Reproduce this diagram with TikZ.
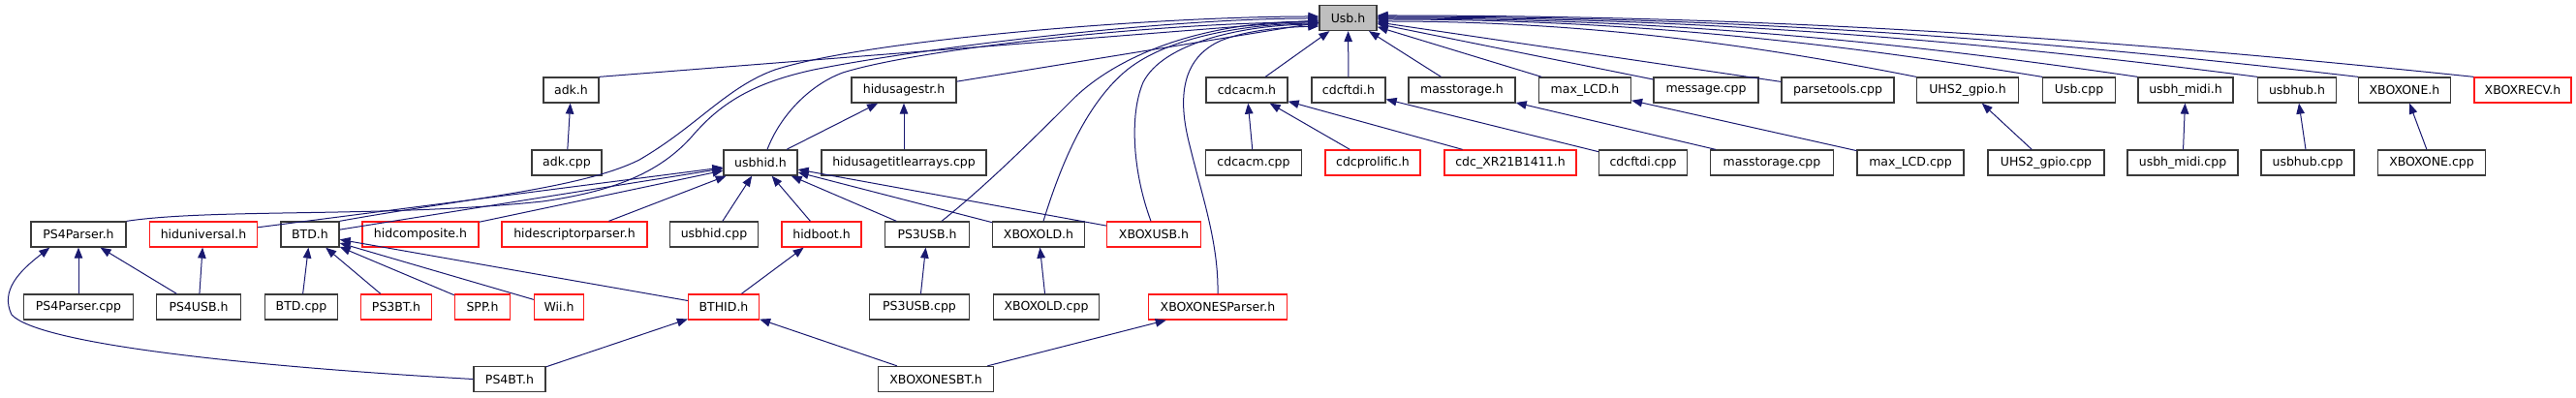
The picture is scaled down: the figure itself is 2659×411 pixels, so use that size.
\documentclass[tikz,border=0pt]{standalone}
\usepackage{fontspec}
\setmainfont{DejaVu Sans}
\usetikzlibrary{arrows.meta}
\definecolor{edgecol}{HTML}{191970}
\definecolor{boxred}{HTML}{FF1A1A}
\definecolor{boxblack}{HTML}{3A3A3A}
\definecolor{rootfill}{HTML}{BFBFBF}
\begin{document}
\begin{tikzpicture}[x=1pt,y=1pt,
  nb/.style={draw=boxblack, line width=1.3pt, minimum height=26pt, inner sep=0pt, fill=white,
             font=\fontsize{12.5pt}{14pt}\selectfont},
  nr/.style={nb, draw=boxred},
  nroot/.style={nb, fill=rootfill},
  edge/.style={draw=edgecol, line width=1.0pt, -{Triangle[length=11pt,width=8.5pt]}}]
\fill[white] (0,0) rectangle (2659,-411);
\useasboundingbox (0,0) rectangle (2659,-411);

% row 1
\node[nroot, minimum width=59pt] (usb) at (1391.5,-18.5) {Usb.h};
% row 2
\node[nb, minimum width=57pt]  (adkh) at (589.5,-93) {adk.h};
\node[nb, minimum width=108pt] (hidusagestr) at (933,-93) {hidusagestr.h};
\node[nb, minimum width=84pt]  (cdcacmh) at (1287,-93) {cdcacm.h};
\node[nb, minimum width=76pt]  (cdcftdih) at (1392,-93) {cdcftdi.h};
\node[nb, minimum width=110pt] (masstorageh) at (1509,-93) {masstorage.h};
\node[nb, minimum width=95pt]  (maxlcdh) at (1636,-93) {max\_LCD.h};
\node[nb, minimum width=108pt] (messagecpp) at (1761,-93) {message.cpp};
\node[nb, minimum width=116pt] (parsetoolscpp) at (1897,-93) {parsetools.cpp};
\node[nb, minimum width=105pt] (uhs2h) at (2031,-93) {UHS2\_gpio.h};
\node[nb, minimum width=75pt]  (usbcpp) at (2146,-93) {Usb.cpp};
\node[nb, minimum width=98pt]  (midih) at (2256,-93) {usbh\_midi.h};
\node[nb, minimum width=81pt]  (usbhubh) at (2371,-93) {usbhub.h};
\node[nb, minimum width=95pt]  (xboxoneh) at (2482,-93) {XBOXONE.h};
\node[nr, minimum width=100pt] (xboxrecvh) at (2604,-93) {XBOXRECV.h};
% row 3
\node[nb, minimum width=72pt]  (adkcpp) at (585,-168) {adk.cpp};
\node[nb, minimum width=76pt]  (usbhidh) at (785,-168) {usbhid.h};
\node[nb, minimum width=170pt] (titlecpp) at (933,-168) {hidusagetitlearrays.cpp};
\node[nb, minimum width=99pt]  (cdcacmcpp) at (1294,-168) {cdcacm.cpp};
\node[nr, minimum width=98pt]  (prolific) at (1417,-168) {cdcprolific.h};
\node[nr, minimum width=136pt] (xr21) at (1559,-168) {cdc\_XR21B1411.h};
\node[nb, minimum width=91pt]  (cdcftdicpp) at (1696,-168) {cdcftdi.cpp};
\node[nb, minimum width=127pt] (masstoragecpp) at (1829,-168) {masstorage.cpp};
\node[nb, minimum width=110pt] (maxlcdcpp) at (1972,-168) {max\_LCD.cpp};
\node[nb, minimum width=120pt] (uhs2cpp) at (2112,-168) {UHS2\_gpio.cpp};
\node[nb, minimum width=114pt] (midicpp) at (2253,-168) {usbh\_midi.cpp};
\node[nb, minimum width=96pt]  (usbhubcpp) at (2382,-168) {usbhub.cpp};
\node[nb, minimum width=111pt] (xboxonecpp) at (2510,-168) {XBOXONE.cpp};
% row 4
\node[nb, minimum width=98pt]  (ps4parserh) at (81,-242) {PS4Parser.h};
\node[nr, minimum width=111pt] (hiduniversal) at (210,-242) {hiduniversal.h};
\node[nb, minimum width=60pt]  (btdh) at (320,-242) {BTD.h};
\node[nr, minimum width=120pt] (hidcomposite) at (434,-242) {hidcomposite.h};
\node[nr, minimum width=150pt] (hidescriptor) at (593,-242) {hidescriptorparser.h};
\node[nb, minimum width=91pt]  (usbhidcpp) at (737,-242) {usbhid.cpp};
\node[nr, minimum width=82pt]  (hidboot) at (848,-242) {hidboot.h};
\node[nb, minimum width=87pt]  (ps3usbh) at (957,-242) {PS3USB.h};
\node[nb, minimum width=95pt]  (xboxoldh) at (1072,-242) {XBOXOLD.h};
\node[nr, minimum width=97pt]  (xboxusbh) at (1191,-242) {XBOXUSB.h};
% row 5
\node[nb, minimum width=113pt] (ps4parsercpp) at (81,-317) {PS4Parser.cpp};
\node[nb, minimum width=87pt]  (ps4usbh) at (205,-317) {PS4USB.h};
\node[nb, minimum width=75pt]  (btdcpp) at (311,-317) {BTD.cpp};
\node[nr, minimum width=73pt]  (ps3bth) at (409,-317) {PS3BT.h};
\node[nr, minimum width=57pt]  (spph) at (498,-317) {SPP.h};
\node[nr, minimum width=51pt]  (wiih) at (577,-317) {Wii.h};
\node[nr, minimum width=73pt]  (bthidh) at (747,-317) {BTHID.h};
\node[nb, minimum width=103pt] (ps3usbcpp) at (949,-317) {PS3USB.cpp};
\node[nb, minimum width=109pt] (xboxoldcpp) at (1080,-317) {XBOXOLD.cpp};
\node[nr, minimum width=143pt] (xboxonesparser) at (1257,-317) {XBOXONESParser.h};
% row 6
\node[nb, minimum width=74pt]  (ps4bth) at (526,-391.5) {PS4BT.h};
\node[nb, minimum width=119pt] (xboxonesbt) at (966,-391.5) {XBOXONESBT.h};

% straight edges
\draw[edge] (adkcpp) -- (adkh);
\draw[edge] (adkh.north east) -- (usb);
\draw[edge] (titlecpp) -- (hidusagestr);
\draw[edge] (usbhidh) -- (hidusagestr);
\draw[edge] (hidusagestr) -- (usb);
\draw[edge] (cdcacmh) -- (usb);
\draw[edge] (cdcftdih) -- (usb);
\draw[edge] (masstorageh) -- (usb);
\draw[edge] (maxlcdh) -- (usb);
\draw[edge] (messagecpp) -- (usb);
\draw[edge] (parsetoolscpp) -- (usb);
\draw[edge] (cdcacmcpp) -- (cdcacmh);
\draw[edge] (prolific) -- (cdcacmh);
\draw[edge] (xr21) -- (cdcacmh);
\draw[edge] (cdcftdicpp) -- (cdcftdih);
\draw[edge] (masstoragecpp) -- (masstorageh);
\draw[edge] (maxlcdcpp) -- (maxlcdh);
\draw[edge] (uhs2cpp) -- (uhs2h);
\draw[edge] (midicpp) -- (midih);
\draw[edge] (usbhubcpp) -- (usbhubh);
\draw[edge] (xboxonecpp) -- (xboxoneh);
\draw[edge] (hiduniversal) -- (usbhidh);
\draw[edge] (btdh) -- (usbhidh);
\draw[edge] (hidcomposite) -- (usbhidh);
\draw[edge] (hidescriptor) -- (usbhidh);
\draw[edge] (usbhidcpp) -- (usbhidh);
\draw[edge] (hidboot) -- (usbhidh);
\draw[edge] (ps3usbh) -- (usbhidh);
\draw[edge] (xboxoldh) -- (usbhidh);
\draw[edge] (xboxusbh) -- (usbhidh);
\draw[edge] (ps4parsercpp) -- (ps4parserh);
\draw[edge] (ps4usbh) -- (ps4parserh);
\draw[edge] (ps4usbh) -- (hiduniversal);
\draw[edge] (btdcpp) -- (btdh);
\draw[edge] (ps3bth) -- (btdh);
\draw[edge] (spph) -- (btdh);
\draw[edge] (wiih) -- (btdh);
\draw[edge] (bthidh) -- (btdh);
\draw[edge] (bthidh) -- (hidboot);
\draw[edge] (ps3usbcpp) -- (ps3usbh);
\draw[edge] (xboxoldcpp) -- (xboxoldh);
\draw[edge] (ps4bth) -- (bthidh);
\draw[edge] (xboxonesbt) -- (bthidh);
\draw[edge] (xboxonesbt) -- (xboxonesparser);

% curved edges
\draw[edge] (ps4bth.west) .. controls (250,-378) and (40,-355) .. (12,-325)
  .. controls (0,-300) and (20,-280) .. ([xshift=20pt]ps4parserh.south west);
\draw[edge] (btdh.north east) .. controls (480,-205) and (600,-195) .. (660,-165)
  .. controls (720,-130) and (750,-90) .. (800,-72)
  .. controls (900,-40) and (1200,-17) .. ([yshift=1.5pt]usb.west);
\draw[edge] (ps4parserh.north east) .. controls (220,-215) and (400,-225) .. (560,-208)
  .. controls (630,-198) and (680,-180) .. (715,-140)
  .. controls (745,-105) and (780,-85) .. (840,-72)
  .. controls (950,-50) and (1200,-19) .. ([yshift=-0.5pt]usb.west);
\draw[edge] ([xshift=7pt]usbhidh.north) .. controls (805,-120) and (835,-88) .. (870,-75)
  .. controls (950,-50) and (1200,-23) .. ([yshift=-4.5pt]usb.west);
\draw[edge] ([xshift=15pt]ps3usbh.north) .. controls (1020,-190) and (1070,-140) .. (1110,-100)
  .. controls (1150,-62) and (1230,-23) .. ([yshift=-3.5pt]usb.west);
\draw[edge] ([xshift=5pt]xboxoldh.north) .. controls (1095,-170) and (1120,-110) .. (1160,-75)
  .. controls (1200,-40) and (1280,-25) .. ([yshift=-5.5pt]usb.west);
\draw[edge] ([xshift=-3pt]xboxusbh.north) .. controls (1170,-180) and (1165,-120) .. (1180,-85)
  .. controls (1200,-45) and (1280,-26) .. ([yshift=-6.5pt]usb.west);
\draw[edge] (xboxonesparser.north) .. controls (1258,-250) and (1240,-200) .. (1228,-150)
  .. controls (1215,-100) and (1220,-60) .. (1260,-42)
  .. controls (1290,-30) and (1330,-28) .. ([yshift=-8.5pt]usb.west);
\draw[edge] (uhs2h.north west) .. controls (1784,-41) and (1616,-22) .. ([yshift=-3.5pt]usb.east);
\draw[edge] (usbcpp.north west) .. controls (1868,-40) and (1661,-20) .. ([yshift=-1.5pt]usb.east);
\draw[edge] (midih.north west) .. controls (1932,-39) and (1696,-19) .. ([yshift=-0.5pt]usb.east);
\draw[edge] (usbhubh.north west) .. controls (2012,-38.5) and (1739,-18) .. ([yshift=0.5pt]usb.east);
\draw[edge] (xboxoneh.north west) .. controls (2080,-38) and (1776,-17) .. ([yshift=1.5pt]usb.east);
\draw[edge] (xboxrecvh.north west) .. controls (2157,-38) and (1818,-16) .. ([yshift=2.5pt]usb.east);
\end{tikzpicture}
\end{document}
